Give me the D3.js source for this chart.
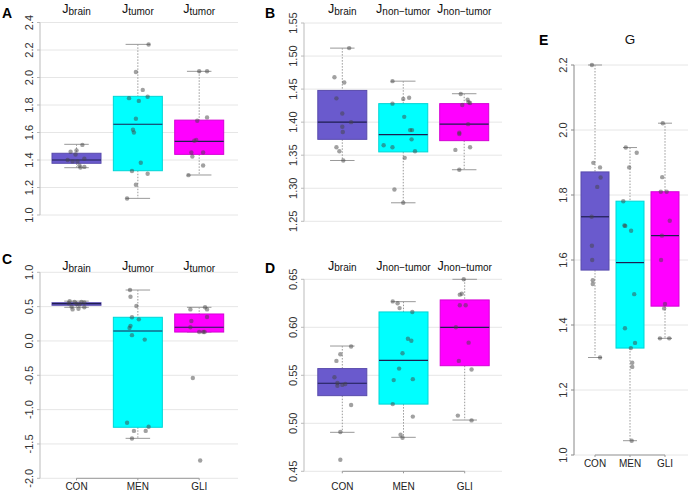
<!DOCTYPE html>
<html>
<head>
<meta charset="utf-8">
<script src="https://cdn.jsdelivr.net/npm/d3@7"></script>
<style>
  html, body { margin: 0; padding: 0; background: #fff; }
  svg { display: block; font-family: "Liberation Sans", Arial, sans-serif; }
</style>
</head>
<body>
<svg id="chart" width="688" height="491"></svg>
<script>
// ---------------- DATA ----------------
const categories = ["CON", "MEN", "GLI"];

// Panel A: J (brain / tumor)
const A_CON = [1.51, 1.47, 1.46, 1.44, 1.41, 1.40, 1.39, 1.39, 1.36, 1.35, 1.345];
const A_MEN = [2.24, 2.04, 1.91, 1.86, 1.85, 1.83, 1.70, 1.62, 1.60, 1.38, 1.32, 1.30, 1.22, 1.12];
const A_GLI = [2.045, 2.045, 1.71, 1.685, 1.545, 1.54, 1.455, 1.455, 1.425, 1.36, 1.29];
const A_CON_jit = [0.12, 0, -0.12, -0.02, 0.16, -0.18, -0.08, 0.02, 0.06, 0.16, 0.08];
const A_MEN_jit = [0.22, -0.04, 0.10, 0.20, -0.18, 0.02, -0.04, -0.10, -0.08, 0.06, -0.12, 0.20, -0.04, -0.22];
const A_GLI_jit = [0, 0.16, 0.16, -0.04, -0.06, -0.10, -0.16, 0.08, -0.14, 0.08, -0.22];
// [whisker low, q1, median, q3, whisker high]
const A_stats = [[1.344, 1.376, 1.40, 1.449, 1.514], [1.121, 1.322, 1.66, 1.863, 2.241], [1.291, 1.441, 1.536, 1.69, 2.045]];
const A_ticks = ["1.0", "1.2", "1.4", "1.6", "1.8", "2.0", "2.2", "2.4"];
const A_subs = ["brain", "tumor", "tumor"];

// Panel B: J (brain / non-tumor)
const B_CON = [1.512, 1.468, 1.460, 1.436, 1.413, 1.400, 1.393, 1.385, 1.362, 1.356, 1.342];
const B_MEN = [1.462, 1.437, 1.435, 1.428, 1.408, 1.388, 1.388, 1.374, 1.365, 1.362, 1.356, 1.346, 1.298, 1.278];
const B_GLI = [1.4426, 1.434, 1.430, 1.429, 1.426, 1.397, 1.384, 1.382, 1.362, 1.358, 1.328];
const B_CON_jit = [0.14, -0.16, 0.04, -0.12, 0, 0.18, 0, 0.01, -0.12, -0.06, 0.02];
const B_MEN_jit = [-0.22, 0.12, 0, -0.22, 0.02, 0.14, 0.18, 0.17, -0.40, -0.22, 0.24, 0.03, -0.18, 0];
const B_GLI_jit = [-0.07, 0.07, 0.09, 0.12, -0.04, 0.08, -0.10, -0.10, 0.12, -0.18, -0.10];
const B_stats = [[1.342, 1.374, 1.40, 1.448, 1.512], [1.278, 1.355, 1.381, 1.428, 1.462], [1.328, 1.372, 1.397, 1.428, 1.443]];
const B_ticks = ["1.25", "1.30", "1.35", "1.40", "1.45", "1.50", "1.55"];
const B_subs = ["brain", "non\u2212tumor", "non\u2212tumor"];

// Panel C: J (brain / tumor)
const C_CON = [0.58, 0.57, 0.57, 0.56, 0.55, 0.54, 0.53, 0.50, 0.49, 0.47, 0.46];
const C_MEN = [0.742, 0.645, 0.51, 0.345, 0.315, 0.22, 0.19, 0.085, 0.02, -1.19, -1.25, -1.31, -1.31, -1.42];
const C_GLI = [0.49, 0.46, 0.46, 0.35, 0.29, 0.20, 0.13, 0.13, 0.13, -0.54, -1.74];
const C_CON_jit = [-0.14, 0.10, -0.04, 0.16, -0.16, 0, 0.06, -0.10, 0.16, 0.04, -0.08];
const C_MEN_jit = [-0.16, -0.15, -0.03, -0.12, 0.02, -0.15, -0.17, -0.12, 0.14, -0.22, 0.22, -0.08, 0.16, -0.12];
const C_GLI_jit = [0.12, -0.18, 0.16, 0.16, -0.16, -0.18, 0, 0.11, 0.08, -0.13, 0.02];
const C_stats = [[0.49, 0.52, 0.545, 0.557, 0.58], [-1.418, -1.257, 0.145, 0.345, 0.742], [0.13, 0.13, 0.20, 0.393, 0.49]];
const C_ticks = ["-2.0", "-1.5", "-1.0", "-0.5", "0.0", "0.5", "1.0"];
const C_subs = ["brain", "tumor", "tumor"];

// Panel D: J (brain / non-tumor)
const D_CON = [0.58, 0.572, 0.565, 0.548, 0.542, 0.541, 0.540, 0.539, 0.519, 0.491, 0.462];
const D_MEN = [0.627, 0.625, 0.62, 0.616, 0.588, 0.586, 0.573, 0.557, 0.545, 0.546, 0.520, 0.507, 0.488, 0.485];
const D_GLI = [0.65, 0.635, 0.634, 0.623, 0.623, 0.600, 0.584, 0.565, 0.556, 0.508, 0.503];
const D_CON_jit = [0.18, -0.04, -0.12, -0.16, -0.10, 0.06, 0, -0.10, 0.18, -0.04, -0.04];
const D_MEN_jit = [-0.22, -0.12, -0.08, 0.18, 0.09, 0.16, -0.02, -0.09, -0.20, 0.19, -0.22, 0.19, -0.06, -0.02];
const D_GLI_jit = [-0.02, -0.06, -0.10, -0.10, 0.02, -0.18, 0.08, -0.12, 0.14, -0.14, 0.14];
const D_stats = [[0.4906, 0.5288, 0.5417, 0.557, 0.5805], [0.4854, 0.520, 0.5656, 0.616, 0.6267], [0.5034, 0.560, 0.600, 0.6285, 0.65]];
const D_ticks = ["0.45", "0.50", "0.55", "0.60", "0.65"];
const D_subs = ["brain", "non\u2212tumor", "non\u2212tumor"];

// Panel E: G
const E_CON = [2.2, 1.899, 1.885, 1.854, 1.825, 1.733, 1.644, 1.60, 1.538, 1.526, 1.30];
const E_MEN = [1.946, 1.930, 1.885, 1.781, 1.706, 1.705, 1.690, 1.495, 1.39, 1.345, 1.329, 1.284, 1.271, 1.044];
const E_GLI = [2.021, 1.855, 1.81, 1.81, 1.721, 1.675, 1.60, 1.465, 1.451, 1.359, 1.359];
const E_CON_jit = [-0.11, -0.06, 0.18, 0.20, 0.08, -0.12, -0.11, -0.10, -0.08, -0.08, 0.18];
const E_MEN_jit = [-0.15, 0.24, -0.03, -0.24, -0.20, -0.17, 0.04, 0.15, -0.18, 0.18, 0.03, 0.08, 0.08, 0.06];
const E_GLI_jit = [-0.08, -0.10, -0.15, 0.06, 0.17, -0.11, -0.14, 0, -0.03, -0.18, 0.15];
const E_stats = [[1.30, 1.569, 1.733, 1.871, 2.2], [1.044, 1.329, 1.592, 1.781, 1.946], [1.359, 1.458, 1.675, 1.81, 2.021]];
const E_ticks = ["1.0", "1.2", "1.4", "1.6", "1.8", "2.0", "2.2"];

// ---------------- LAYOUT ----------------
const fills = ["#6a5acd", "#00ffff", "#ff00ff"];

const panels = [
  { letter: "A", lx: 2, ly: 18.3, data: [A_CON, A_MEN, A_GLI], jit: [A_CON_jit, A_MEN_jit, A_GLI_jit], stats: A_stats,
    ticks: A_ticks, yDom: [1.0, 2.4], yRng: [215, 22.5], axisX: 40, right: 238, xRng: [76.5, 199.2], boxW: 49,
    subs: A_subs, headY: 13.3, xAxis: false, axisCol: "#bbb" },
  { letter: "B", lx: 265, ly: 18.3, data: [B_CON, B_MEN, B_GLI], jit: [B_CON_jit, B_MEN_jit, B_GLI_jit], stats: B_stats,
    ticks: B_ticks, yDom: [1.25, 1.55], yRng: [221.3, 23], axisX: 304, right: 502, xRng: [342.3, 464.2], boxW: 49,
    subs: B_subs, headY: 13.3, xAxis: false, axisCol: "#bbb" },
  { letter: "C", lx: 2, ly: 264, data: [C_CON, C_MEN, C_GLI], jit: [C_CON_jit, C_MEN_jit, C_GLI_jit], stats: C_stats,
    ticks: C_ticks, yDom: [-2.0, 1.0], yRng: [478.3, 272.3], axisX: 40, right: 238, xRng: [76.5, 199.2], boxW: 49,
    subs: C_subs, headY: 270, xAxis: true, catY: 489.5, axisCol: "#bbb" },
  { letter: "D", lx: 265, ly: 273, data: [D_CON, D_MEN, D_GLI], jit: [D_CON_jit, D_MEN_jit, D_GLI_jit], stats: D_stats,
    ticks: D_ticks, yDom: [0.45, 0.65], yRng: [471.3, 279.3], axisX: 304, right: 502, xRng: [342.3, 464.7], boxW: 49,
    subs: D_subs, headY: 269.5, xAxis: true, catY: 489.5, axisCol: "#bbb" },
  { letter: "E", lx: 539, ly: 45, data: [E_CON, E_MEN, E_GLI], jit: [E_CON_jit, E_MEN_jit, E_GLI_jit], stats: E_stats,
    ticks: E_ticks, yDom: [1.0, 2.2], yRng: [455, 65], axisX: 574, right: 688, xRng: [595, 665], boxW: 28,
    title: "G", titleX: 630, headY: 44, xAxis: true, catY: 466.5, axisCol: "#888" }
];

const svg = d3.select("#chart");

panels.forEach(p => {
  const g = svg.append("g");
  const y = d3.scaleLinear().domain(p.yDom).range(p.yRng);
  const x = d3.scalePoint().domain(categories).range(p.xRng);
  const tickVals = p.ticks.map(t => +t);

  // gridlines
  g.selectAll(".grid").data(tickVals).enter().append("line")
    .attr("x1", p.axisX).attr("x2", p.right)
    .attr("y1", d => y(d)).attr("y2", d => y(d))
    .attr("stroke", "#e6e6e6").attr("stroke-width", 1);

  // y axis line and ticks
  g.append("line")
    .attr("x1", p.axisX).attr("x2", p.axisX)
    .attr("y1", y(tickVals[0])).attr("y2", y(tickVals[tickVals.length - 1]))
    .attr("stroke", p.axisCol).attr("stroke-width", 1);
  g.selectAll(".tk").data(tickVals).enter().append("line")
    .attr("x1", p.axisX - 3).attr("x2", p.axisX)
    .attr("y1", d => y(d)).attr("y2", d => y(d))
    .attr("stroke", p.axisCol).attr("stroke-width", 1);
  g.selectAll(".tl").data(p.ticks).enter().append("text")
    .attr("transform", d => `translate(${p.axisX - 7},${y(+d)}) rotate(-90)`)
    .attr("text-anchor", "middle")
    .attr("font-size", 11).attr("fill", "#333")
    .text(d => d);

  // x axis
  if (p.xAxis) {
    const yb = y(p.yDom[0]);
    g.append("line")
      .attr("x1", x(categories[0])).attr("x2", x(categories[2]))
      .attr("y1", yb).attr("y2", yb)
      .attr("stroke", "#999").attr("stroke-width", 1);
    g.selectAll(".xt").data(categories).enter().append("line")
      .attr("x1", d => x(d)).attr("x2", d => x(d))
      .attr("y1", yb).attr("y2", yb + 2)
      .attr("stroke", "#999");
    g.selectAll(".xl").data(categories).enter().append("text")
      .attr("x", d => x(d)).attr("y", p.catY)
      .attr("text-anchor", "middle").attr("font-size", 10).attr("fill", "#222")
      .text(d => d);
  }

  // boxes
  categories.forEach((c, i) => {
    const s = p.stats[i];
    const cx = x(c);
    const w = p.boxW;
    const bg = g.append("g");
    // whiskers (dotted)
    bg.append("line").attr("x1", cx).attr("x2", cx).attr("y1", y(s[4])).attr("y2", y(s[3]))
      .attr("stroke", "#999").attr("stroke-dasharray", "1.5,1.5");
    bg.append("line").attr("x1", cx).attr("x2", cx).attr("y1", y(s[1])).attr("y2", y(s[0]))
      .attr("stroke", "#999").attr("stroke-dasharray", "1.5,1.5");
    // caps
    [s[0], s[4]].forEach(v => {
      bg.append("line").attr("x1", cx - w / 4).attr("x2", cx + w / 4)
        .attr("y1", y(v)).attr("y2", y(v)).attr("stroke", "#999").attr("stroke-width", 1);
    });
    // box
    bg.append("rect")
      .attr("x", cx - w / 2).attr("width", w)
      .attr("y", y(s[3])).attr("height", Math.max(1, y(s[1]) - y(s[3])))
      .attr("fill", fills[i])
      .attr("stroke", d3.color(fills[i]).darker(0.5)).attr("stroke-width", 1);
    // median
    bg.append("line").attr("x1", cx - w / 2).attr("x2", cx + w / 2)
      .attr("y1", y(s[2])).attr("y2", y(s[2]))
      .attr("stroke", "#1e1e50").attr("stroke-width", 1.2);
    // points
    bg.selectAll("circle").data(p.data[i]).enter().append("circle")
      .attr("cx", (d, k) => cx + p.jit[i][k] * w)
      .attr("cy", d => y(d))
      .attr("r", 2.2)
      .attr("fill", "#444").attr("fill-opacity", 0.5);
  });

  // headers
  if (p.subs) {
    p.subs.forEach((sub, i) => {
      const t = g.append("text").attr("x", x(categories[i])).attr("y", p.headY)
        .attr("text-anchor", "middle").attr("fill", "#111");
      t.append("tspan").attr("font-size", 12.5).text("J");
      t.append("tspan").attr("font-size", 10).attr("dy", 1.8).text(sub);
    });
  }
  if (p.title) {
    g.append("text").attr("x", p.titleX).attr("y", p.headY)
      .attr("text-anchor", "middle").attr("font-size", 13.5).attr("fill", "#111").text(p.title);
  }

  // panel letter
  g.append("text").attr("x", p.lx).attr("y", p.ly)
    .attr("font-size", 14).attr("font-weight", "bold").attr("fill", "#000").text(p.letter);
});
</script>
</body>
</html>
